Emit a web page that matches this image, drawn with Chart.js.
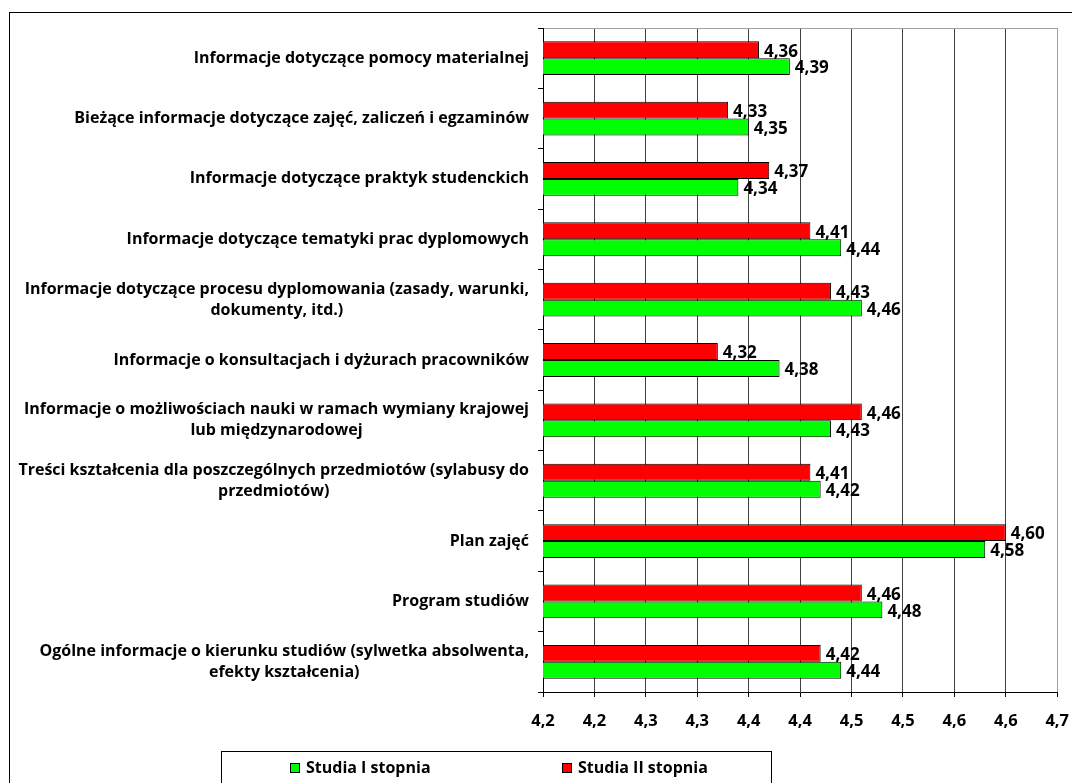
<!DOCTYPE html>
<html>
<head>
<meta charset="utf-8">
<script src="https://cdn.jsdelivr.net/npm/chart.js@4.4.0/dist/chart.umd.min.js"></script>
<style>
    body { margin: 0; background: #fff; }
    #wrap { width: 1072px; height: 783px; }
</style>
</head>
<body>
<div id="wrap"><canvas id="chart" width="1072" height="783"></canvas></div>
<script>
// Data
const categories = [
    'Informacje dotyczące pomocy materialnej',
    'Bieżące informacje dotyczące zajęć, zaliczeń i egzaminów',
    'Informacje dotyczące praktyk studenckich',
    'Informacje dotyczące tematyki prac dyplomowych',
    ['Informacje dotyczące procesu dyplomowania (zasady, warunki,', 'dokumenty, itd.)'],
    'Informacje o konsultacjach i dyżurach pracowników',
    ['Informacje o możliwościach nauki w ramach wymiany krajowej', 'lub międzynarodowej'],
    ['Treści kształcenia dla poszczególnych przedmiotów (sylabusy do', 'przedmiotów)'],
    'Plan zajęć',
    'Program studiów',
    ['Ogólne informacje o kierunku studiów (sylwetka absolwenta,', 'efekty kształcenia)']
];
const studiaI = [4.39, 4.35, 4.34, 4.44, 4.46, 4.38, 4.43, 4.42, 4.58, 4.48, 4.44];
const studiaII = [4.36, 4.33, 4.37, 4.41, 4.43, 4.32, 4.46, 4.41, 4.60, 4.46, 4.42];
const tickValues = [4.15, 4.20, 4.25, 4.30, 4.35, 4.40, 4.45, 4.50, 4.55, 4.60, 4.65];
const tickLabels = ['4,2', '4,2', '4,3', '4,3', '4,4', '4,4', '4,5', '4,5', '4,6', '4,6', '4,7'];

const GREEN = '#00ff00';
const RED = '#ff0000';
const FONT = '"Open Sans"';

// value labels next to bars
const valueLabels = {
    id: 'valueLabels',
    afterDatasetsDraw(chart) {
        const ctx = chart.ctx;
        ctx.save();
        ctx.font = 'bold 17px ' + FONT;
        ctx.fillStyle = '#000';
        ctx.textBaseline = 'middle';
        chart.data.datasets.forEach((ds, di) => {
            chart.getDatasetMeta(di).data.forEach((bar, i) => {
                ctx.fillText(ds.data[i].toFixed(2).replace('.', ','), bar.x + 5, bar.y + 2);
            });
        });
        ctx.restore();
    }
};

// category labels, right aligned block with centred lines (like Excel)
const categoryLabels = {
    id: 'categoryLabels',
    afterDraw(chart) {
        const ctx = chart.ctx;
        const y = chart.scales.y;
        ctx.save();
        ctx.font = 'bold 16px ' + FONT;
        ctx.fillStyle = '#000';
        ctx.textBaseline = 'middle';
        ctx.textAlign = 'center';
        const right = 529;
        categories.forEach((cat, i) => {
            const lines = Array.isArray(cat) ? cat : [cat];
            const w = Math.max(...lines.map(l => ctx.measureText(l).width));
            const cx = right - w / 2;
            const cy = y.getPixelForValue(i);
            lines.forEach((l, j) => {
                ctx.fillText(l, cx, cy + (j - (lines.length - 1) / 2) * 21);
            });
        });
        ctx.restore();
    }
};

// outer frame and boxed legend
const frameLegend = {
    id: 'frameLegend',
    afterDraw(chart) {
        const ctx = chart.ctx;
        ctx.save();
        ctx.strokeStyle = '#000';
        ctx.lineWidth = 1;
        ctx.strokeRect(9.5, 12.5, 1100, 800);

        ctx.strokeRect(221.5, 751.5, 550, 60);
        const items = [
            { text: chart.data.datasets[1].label, color: GREEN, x: 290 },
            { text: chart.data.datasets[0].label, color: RED, x: 562 }
        ];
        ctx.font = 'bold 16px ' + FONT;
        ctx.textBaseline = 'middle';
        ctx.textAlign = 'left';
        items.forEach(it => {
            ctx.fillStyle = it.color;
            ctx.fillRect(it.x, 763, 10, 10);
            ctx.strokeRect(it.x + 0.5, 763.5, 9, 9);
            ctx.fillStyle = '#000';
            ctx.fillText(it.text, it.x + 16, 768);
        });
        ctx.restore();
    }
};

new Chart(document.getElementById('chart'), {
    type: 'bar',
    data: {
        labels: categories,
        datasets: [
            {
                label: 'Studia II stopnia',
                data: studiaII,
                backgroundColor: RED,
                borderColor: '#000',
                borderWidth: 1,
                categoryPercentage: 0.56,
                barPercentage: 1
            },
            {
                label: 'Studia I stopnia',
                data: studiaI,
                backgroundColor: GREEN,
                borderColor: '#000',
                borderWidth: 1,
                categoryPercentage: 0.56,
                barPercentage: 1
            }
        ]
    },
    options: {
        indexAxis: 'y',
        responsive: false,
        animation: false,
        layout: { padding: { left: 0, top: 28, right: 0, bottom: 0 } },
        plugins: {
            legend: { display: false },
            tooltip: { enabled: false }
        },
        scales: {
            x: {
                type: 'linear',
                min: 4.15,
                max: 4.65,
                afterBuildTicks: s => { s.ticks = tickValues.map(v => ({ value: v })); },
                afterFit: s => { s.height = 91; },
                ticks: {
                    callback: (v, i) => tickLabels[i],
                    font: { family: 'Open Sans', size: 16.5, weight: 'bold', lineHeight: 2.6 },
                    color: '#000',
                    padding: 3,
                    maxRotation: 0,
                    autoSkip: false
                },
                grid: {
                    color: c => c.index === tickValues.length - 1 ? '#a0a0a0' : '#404040',
                    tickColor: '#000',
                    tickLength: 5
                },
                border: { color: '#000', width: 1 }
            },
            y: {
                type: 'category',
                offset: true,
                afterFit: s => { s.width = 543; },
                ticks: { display: false },
                grid: {
                    offset: true,
                    color: c => c.index === 0 ? '#a0a0a0' : 'rgba(0,0,0,0)',
                    tickColor: '#000',
                    tickLength: 5
                },
                border: { color: '#000', width: 1 }
            }
        }
    },
    plugins: [valueLabels, categoryLabels, frameLegend]
});
</script>
</body>
</html>
